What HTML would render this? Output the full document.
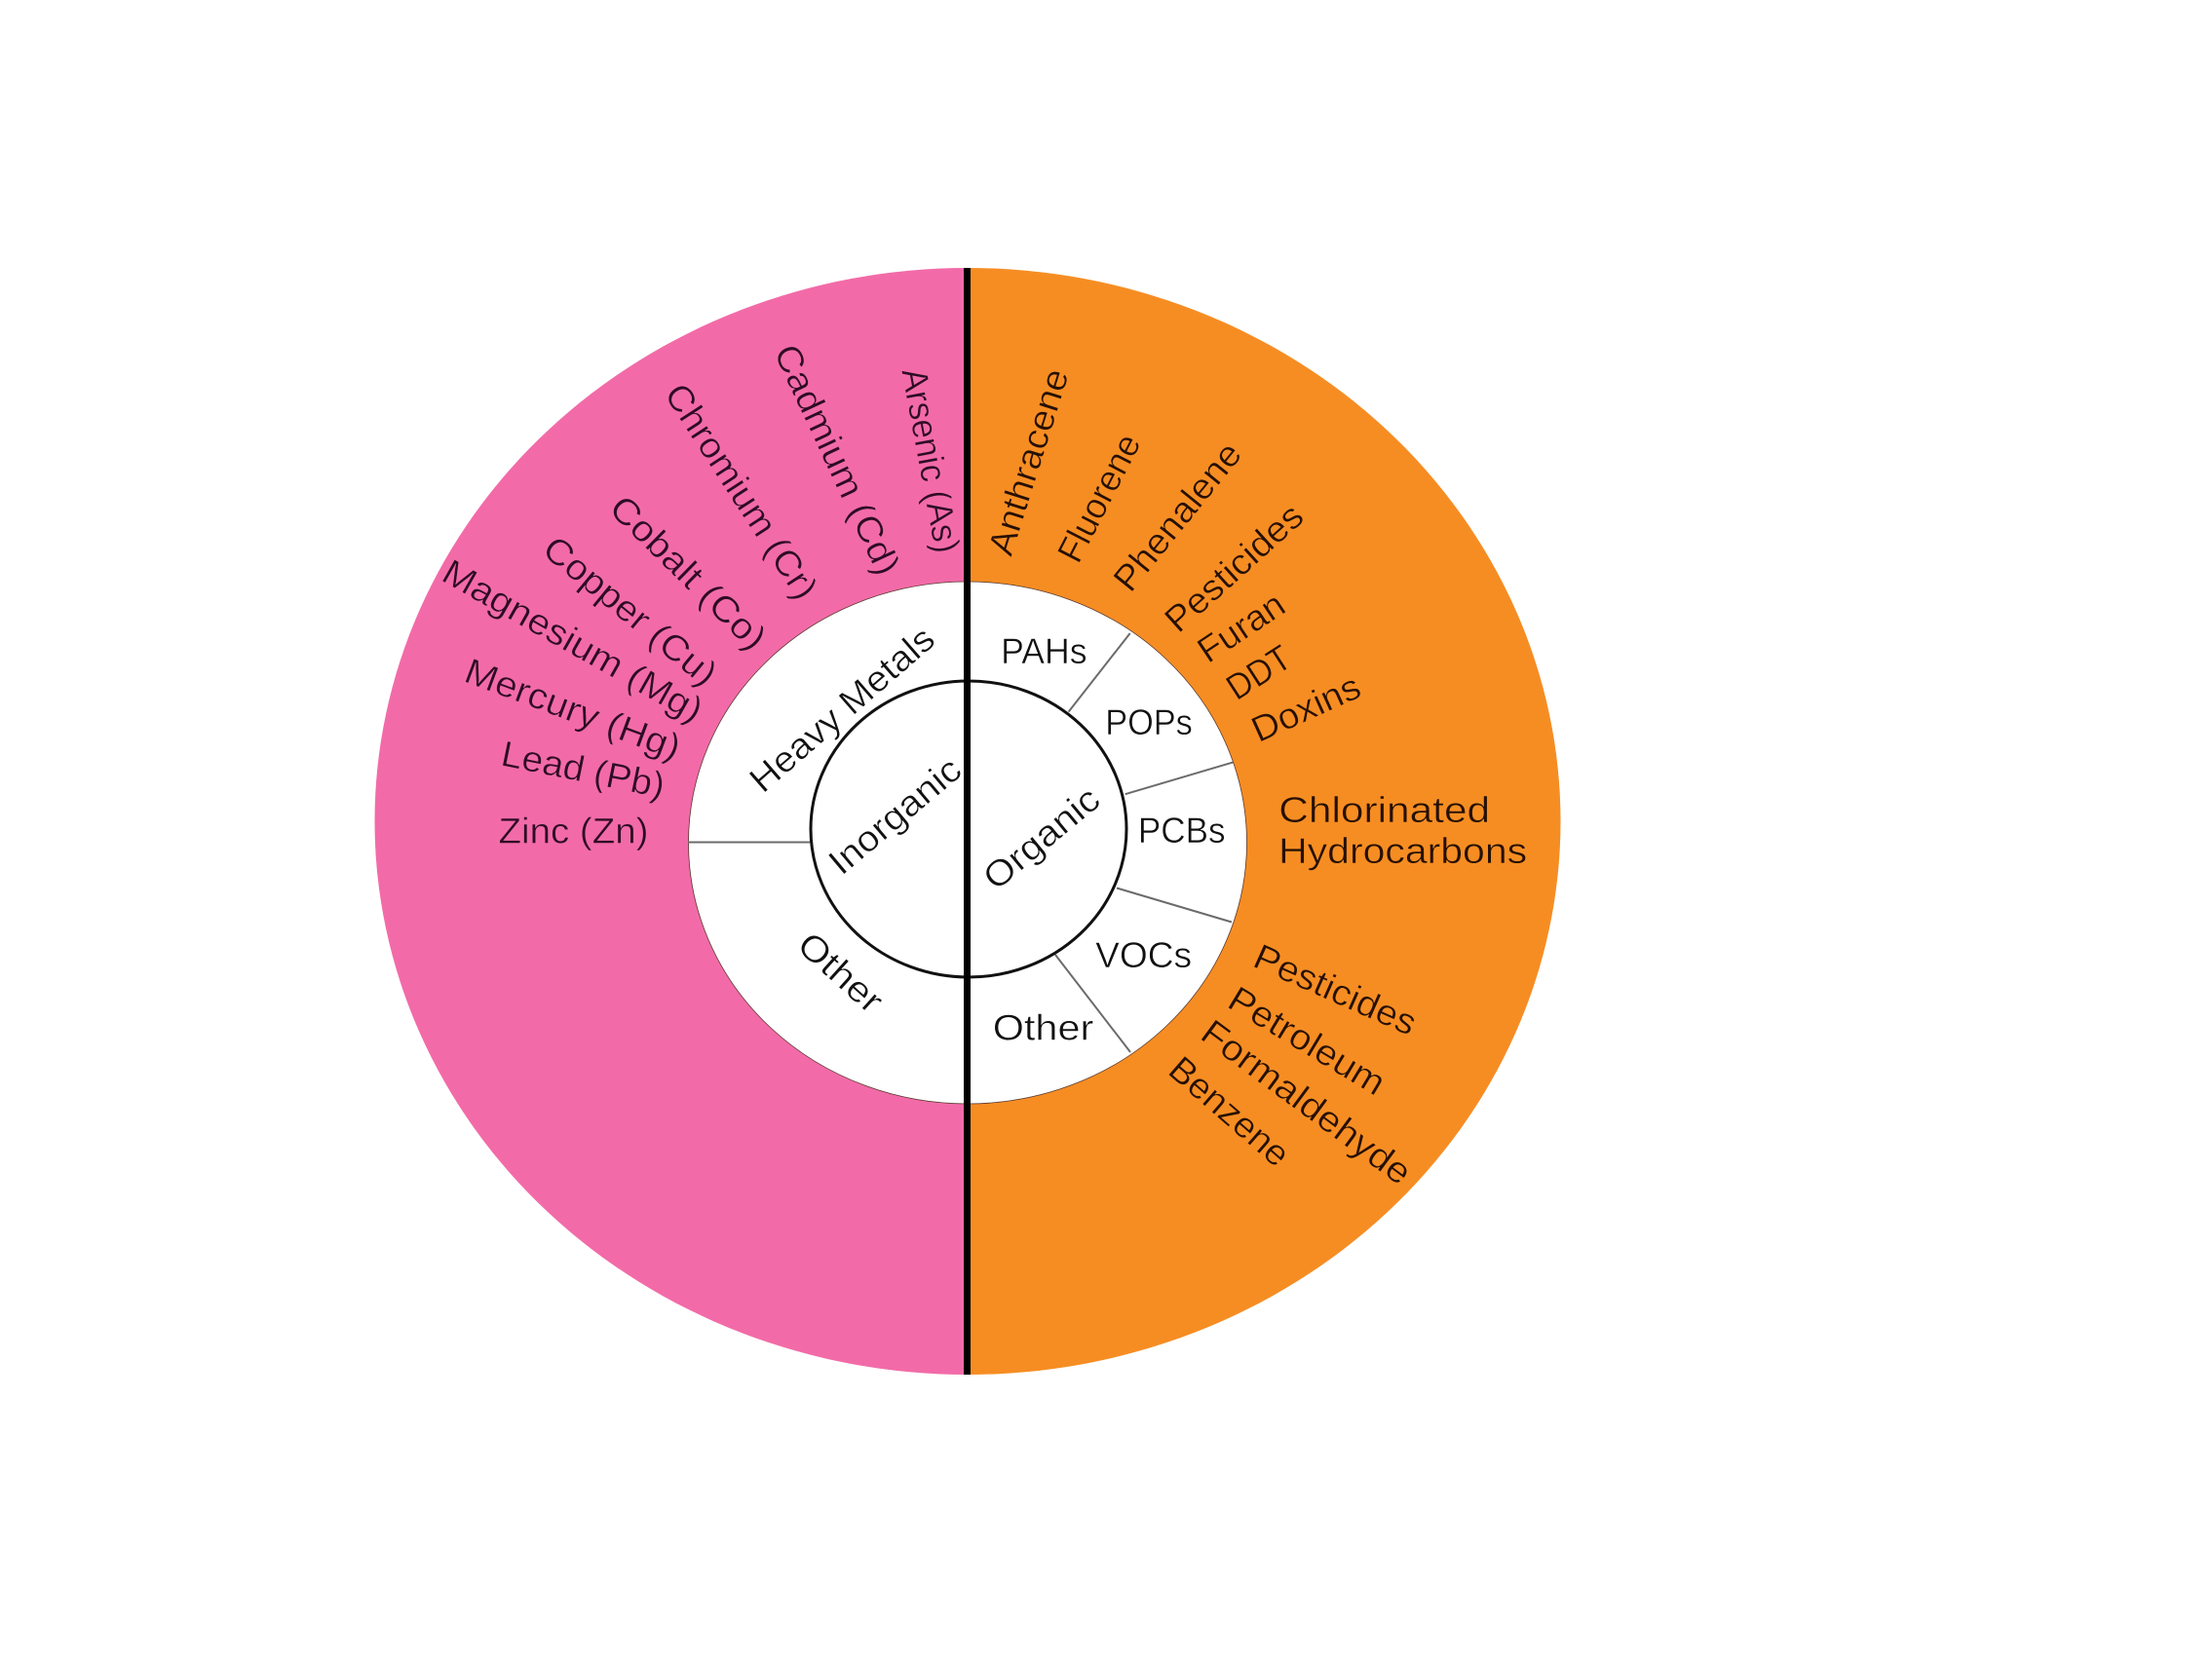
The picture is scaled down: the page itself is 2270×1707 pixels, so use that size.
<!DOCTYPE html>
<html>
<head>
<meta charset="utf-8">
<style>
html,body{margin:0;padding:0;background:#fff;width:2270px;height:1707px;overflow:hidden}
svg{display:block}
text{font-family:"Liberation Sans",sans-serif;font-size:37px;text-anchor:middle;stroke-width:.5px}
.p text{fill:#2e0c24;stroke:#f26ba8}
.o text{fill:#261004;stroke:#f68d23}
.w text{fill:#111;stroke:#fff}
</style>
</head>
<body>
<svg width="2270" height="1707" viewBox="0 0 2270 1707" xmlns="http://www.w3.org/2000/svg">
<rect width="2270" height="1707" fill="#fff"/>
<path d="M993 275A608.500 568 0 0 0 993 1411Z" fill="#f26ba8"/>
<path d="M993 275A608.500 568 0 0 1 993 1411Z" fill="#f68d23"/>
<ellipse cx="993" cy="865" rx="286.500" ry="268" fill="#fff" stroke="#5a3a30" stroke-width=".8"/>
<g stroke="#6b6b6b" stroke-width="2" fill="none">
<line x1="706" y1="864.500" x2="832" y2="864.500"/>
<line x1="1159.700" y1="650" x2="1096.600" y2="730.600"/>
<line x1="1265.400" y1="782.400" x2="1154.700" y2="815.200"/>
<line x1="1264" y1="946.500" x2="1146" y2="911.500"/>
<line x1="1160" y1="1080" x2="1083" y2="980"/>
</g>
<ellipse cx="994" cy="851" rx="162" ry="152" fill="none" stroke="#111" stroke-width="3"/>
<rect x="989" y="275" width="7" height="1136" fill="#000"/>
<g class="p">
<text dy=".35em" textLength="192" lengthAdjust="spacingAndGlyphs" transform="translate(955.500 472.500) rotate(79.500)">Arsenic (As)</text>
<text dy=".35em" textLength="256" lengthAdjust="spacingAndGlyphs" transform="translate(859.500 471.500) rotate(65)">Cadmium (Cd)</text>
<text dy=".35em" textLength="255" lengthAdjust="spacingAndGlyphs" transform="translate(761 504) rotate(57)">Chromium (Cr)</text>
<text dy=".35em" textLength="208" lengthAdjust="spacingAndGlyphs" transform="translate(706.500 587.500) rotate(44.500)">Cobalt (Co)</text>
<text dy=".35em" textLength="218" lengthAdjust="spacingAndGlyphs" transform="translate(647 626.700) rotate(39.500)">Copper (Cu)</text>
<text dy=".35em" textLength="300" lengthAdjust="spacingAndGlyphs" transform="translate(588 657.500) rotate(29.500)">Magnesium (Mg)</text>
<text dy=".35em" textLength="233" lengthAdjust="spacingAndGlyphs" transform="translate(588 727.500) rotate(20.500)">Mercury (Hg)</text>
<text dy=".35em" textLength="170" lengthAdjust="spacingAndGlyphs" transform="translate(598.500 789.500) rotate(11.500)">Lead (Pb)</text>
<text dy=".35em" textLength="154" lengthAdjust="spacingAndGlyphs" transform="translate(588.500 852.700)">Zinc (Zn)</text>
</g>
<g class="w">
<text dy=".35em" textLength="237" lengthAdjust="spacingAndGlyphs" transform="translate(863.800 727.700) rotate(-41)">Heavy Metals</text>
<text dy=".35em" textLength="164" lengthAdjust="spacingAndGlyphs" transform="translate(918 837) rotate(-40)">Inorganic</text>
<text dy=".35em" textLength="142" lengthAdjust="spacingAndGlyphs" transform="translate(1068.400 860) rotate(-39.600)">Organic</text>
<text dy=".35em" textLength="103" lengthAdjust="spacingAndGlyphs" transform="translate(863 998) rotate(42)">Other</text>
<text dy=".35em" textLength="88.400" lengthAdjust="spacingAndGlyphs" transform="translate(1071.300 668)">PAHs</text>
<text dy=".35em" textLength="89.600" lengthAdjust="spacingAndGlyphs" transform="translate(1179 741)">POPs</text>
<text dy=".35em" textLength="89.600" lengthAdjust="spacingAndGlyphs" transform="translate(1212.700 852)">PCBs</text>
<text dy=".35em" textLength="99" lengthAdjust="spacingAndGlyphs" transform="translate(1173.600 980)">VOCs</text>
<text dy=".35em" textLength="103.500" lengthAdjust="spacingAndGlyphs" transform="translate(1070.500 1054.600)">Other</text>
</g>
<g class="o">
<text dy=".35em" textLength="198" lengthAdjust="spacingAndGlyphs" transform="translate(1055 474) rotate(-72.500)">Anthracene</text>
<text dy=".35em" textLength="142" lengthAdjust="spacingAndGlyphs" transform="translate(1127.500 511) rotate(-62.700)">Fluorene</text>
<text dy=".35em" textLength="184" lengthAdjust="spacingAndGlyphs" transform="translate(1208 530) rotate(-51)">Phenalene</text>
<text dy=".35em" textLength="176" lengthAdjust="spacingAndGlyphs" transform="translate(1266 582.500) rotate(-42)">Pesticides</text>
<text dy=".35em" textLength="98.600" lengthAdjust="spacingAndGlyphs" transform="translate(1273.400 643.500) rotate(-33.700)">Furan</text>
<text dy=".35em" textLength="70" lengthAdjust="spacingAndGlyphs" transform="translate(1291.500 690) rotate(-32.700)">DDT</text>
<text dy=".35em" textLength="118" lengthAdjust="spacingAndGlyphs" transform="translate(1340 726.400) rotate(-24.300)">Doxins</text>
<text dy=".35em" textLength="216.800" lengthAdjust="spacingAndGlyphs" transform="translate(1420.700 830.800)">Chlorinated</text>
<text dy=".35em" textLength="255" lengthAdjust="spacingAndGlyphs" transform="translate(1439.600 873)">Hydrocarbons</text>
<text dy=".35em" textLength="178" lengthAdjust="spacingAndGlyphs" transform="translate(1370.500 1015.500) rotate(23.900)">Pesticides</text>
<text dy=".35em" textLength="180" lengthAdjust="spacingAndGlyphs" transform="translate(1341.500 1068) rotate(31)">Petroleum</text>
<text dy=".35em" textLength="257" lengthAdjust="spacingAndGlyphs" transform="translate(1341 1131) rotate(36.400)">Formaldehyde</text>
<text dy=".35em" textLength="150" lengthAdjust="spacingAndGlyphs" transform="translate(1262 1140.500) rotate(41)">Benzene</text>
</g>
</svg>
</body>
</html>
